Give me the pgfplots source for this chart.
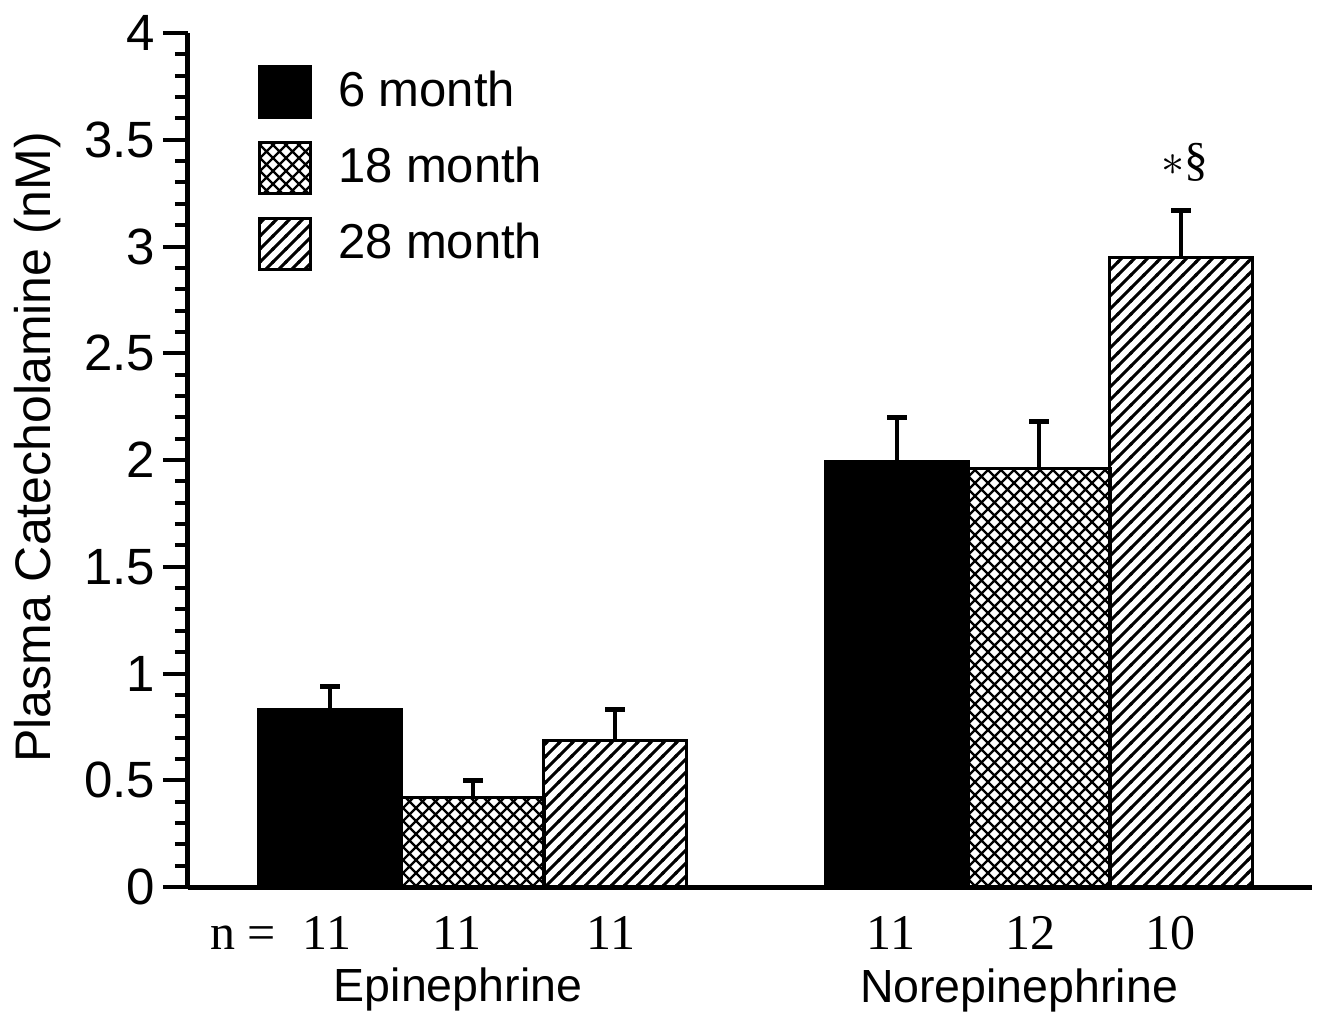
\documentclass[border=0pt]{standalone}
\usepackage{fontspec}
\setmainfont{Liberation Sans}
\newfontfamily\serif{Liberation Serif}
\usepackage{pgfplots}
\pgfplotsset{compat=1.18}
\usetikzlibrary{patterns}
\pgfdeclarepatternformonly{xhatch}{\pgfqpoint{-1pt}{-1pt}}{\pgfqpoint{3.6pt}{3.6pt}}{\pgfqpoint{2.6pt}{2.6pt}}{%
  \pgfsetlinewidth{0.45pt}%
  \pgfpathmoveto{\pgfqpoint{-0.2pt}{-0.2pt}}\pgfpathlineto{\pgfqpoint{2.8pt}{2.8pt}}%
  \pgfpathmoveto{\pgfqpoint{-0.2pt}{2.8pt}}\pgfpathlineto{\pgfqpoint{2.8pt}{-0.2pt}}%
  \pgfusepath{stroke}}
\pgfdeclarepatternformonly{nehatch}{\pgfqpoint{-1pt}{-1pt}}{\pgfqpoint{3.6pt}{3.6pt}}{\pgfqpoint{2.6pt}{2.6pt}}{%
  \pgfsetlinewidth{0.6pt}%
  \pgfpathmoveto{\pgfqpoint{-0.2pt}{-0.2pt}}\pgfpathlineto{\pgfqpoint{2.8pt}{2.8pt}}%
  \pgfusepath{stroke}}
\begin{document}
\begin{tikzpicture}
\useasboundingbox (-37.6pt,-25.8pt) rectangle (229.2pt,177.4pt);
\begin{axis}[
  scale only axis, width=224.8pt, height=170.8pt,
  xmin=188, xmax=1312, ymin=0, ymax=4,
  clip=false,
  axis x line=bottom, axis y line=left,
  axis line style={-, line width=1pt},
  xtick=\empty,
  ytick={0,0.5,1,1.5,2,2.5,3,3.5,4},
  yticklabels={0,0.5,1,1.5,2,2.5,3,3.5,4},
  minor y tick num=4,
  tick align=outside, major tick length=5pt, minor tick length=2.6pt,
  every tick/.style={black, line width=0.8pt},
  /pgf/number format/assume math mode=true,
  yticklabel style={font=\fontsize{10.2}{12}\selectfont, xshift=2pt},
  ylabel={Plasma Catecholamine (nM)},
  ylabel style={at={(axis description cs:-0.134,0.515)}, anchor=center, font=\fontsize{10}{12}\selectfont},
  legend image code/.code={\draw[#1, line width=0.6pt] (0pt,-5.1pt) rectangle (10.2pt,5.1pt);},
  legend style={at={(axis cs:257,3.875)}, anchor=north west, draw=none, fill=none, inner sep=0pt,
    row sep=2.6pt, font=\fontsize{9.8}{11}\selectfont,
    /tikz/every odd column/.append style={column sep=3.2pt}},
  legend cell align=left,
]
\addplot[ybar, bar width=143, bar shift=0, fill=black, draw=black, line width=0.6pt,
  error bars/.cd, y dir=plus, y explicit,
  error bar style={line width=0.65pt, black},
  error mark options={rotate=90, mark size=2pt, line width=1pt, black}]
  coordinates {(330,0.83) +- (0,0.11) (897,1.995) +- (0,0.205)};
\addlegendentry{6 month}
\addplot[ybar, bar width=143, bar shift=0, pattern=xhatch, pattern color=black, draw=black, line width=0.6pt,
  error bars/.cd, y dir=plus, y explicit,
  error bar style={line width=0.65pt, black},
  error mark options={rotate=90, mark size=2pt, line width=1pt, black}]
  coordinates {(473,0.42) +- (0,0.077) (1039,1.96) +- (0,0.22)};
\addlegendentry{18 month}
\addplot[ybar, bar width=143, bar shift=0, pattern=nehatch, pattern color=black, draw=black, line width=0.6pt,
  error bars/.cd, y dir=plus, y explicit,
  error bar style={line width=0.65pt, black},
  error mark options={rotate=90, mark size=2pt, line width=1pt, black}]
  coordinates {(615,0.686) +- (0,0.144) (1181,2.95) +- (0,0.22)};
\addlegendentry{28 month}
\node[anchor=base east, inner sep=0pt, font=\serif\fontsize{10}{12}\selectfont] at (axis cs:277,-0.295) {n =};
\node[anchor=base, font=\serif\fontsize{10}{12}\selectfont] at (axis cs:327,-0.295) {11};
\node[anchor=base, font=\serif\fontsize{10}{12}\selectfont] at (axis cs:457,-0.295) {11};
\node[anchor=base, font=\serif\fontsize{10}{12}\selectfont] at (axis cs:611,-0.295) {11};
\node[anchor=base, font=\serif\fontsize{10}{12}\selectfont] at (axis cs:891,-0.295) {11};
\node[anchor=base, font=\serif\fontsize{10}{12}\selectfont] at (axis cs:1030,-0.295) {12};
\node[anchor=base, font=\serif\fontsize{10}{12}\selectfont] at (axis cs:1170,-0.295) {10};
\node[anchor=base, font=\fontsize{9.3}{11}\selectfont] at (axis cs:458,-0.534) {Epinephrine};
\node[anchor=base, font=\fontsize{9.3}{11}\selectfont] at (axis cs:1019,-0.543) {Norepinephrine};
\node[anchor=center, font=\serif\fontsize{9.5}{12}\selectfont] at (axis cs:1185,3.395) {$\ast$\S};
\end{axis}
\end{tikzpicture}
\end{document}
